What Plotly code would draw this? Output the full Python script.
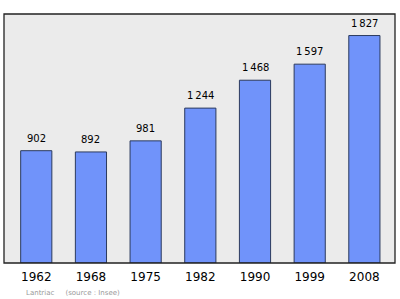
import plotly.graph_objects as go

years = ["1962", "1968", "1975", "1982", "1990", "1999", "2008"]
population = [902, 892, 981, 1244, 1468, 1597, 1827]
labels = [f"{v:,}".replace(",", "\u2009") for v in population]

fig = go.Figure()
fig.add_trace(go.Bar(
    x=years, y=population, width=0.57,
    marker=dict(color="#7093fa", line=dict(color="#2b3a5e", width=1)),
))
annotations = [dict(x=i, y=v, text=t, xref="x", yref="y", showarrow=False,
                    yanchor="bottom", yshift=5,
                    font=dict(family="DejaVu Sans", size=10, color="#000000"))
               for i, (v, t) in enumerate(zip(population, labels))]
annotations.append(dict(text="Lantriac&nbsp;&nbsp;&nbsp;&nbsp;&nbsp;(source : Insee)",
                        xref="paper", yref="paper", x=0.05, y=-0.12,
                        xanchor="left", yanchor="middle", showarrow=False,
                        font=dict(family="DejaVu Sans", size=7, color="#999999")))
fig.update_layout(
    width=400, height=299,
    margin=dict(l=4, r=5, t=14, b=36),
    paper_bgcolor="#ffffff", plot_bgcolor="#ebebeb",
    showlegend=False,
    xaxis=dict(type="category", range=[-0.59, 6.56], showgrid=False, zeroline=False,
               showline=False, ticks="", ticklabelstandoff=5,
               tickfont=dict(family="DejaVu Sans", size=12, color="#000000")),
    yaxis=dict(range=[0, 2000], showgrid=False, zeroline=False, showline=False,
               showticklabels=False, ticks=""),
    shapes=[dict(type="rect", xref="paper", yref="paper", x0=0, x1=1, y0=0, y1=1,
                 line=dict(color="#222222", width=1.3))],
    annotations=annotations,
)
fig.write_html("out.html")
